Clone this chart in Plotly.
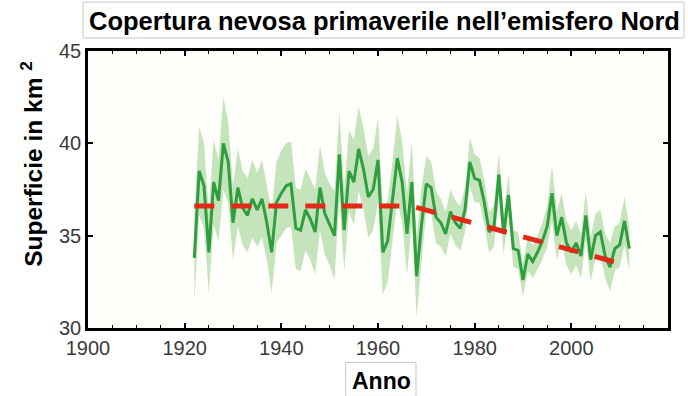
import plotly.graph_objects as go

# ---- data ----
years = list(range(1922, 2013))
snow_cover = [
    33.8, 38.5, 37.7, 34.1, 37.9, 36.9, 40.0, 39.0, 35.7, 37.6,   # 1922-1931
    36.5, 36.1, 37.0, 36.4, 37.0, 35.7, 34.1, 36.8, 37.3, 37.7,   # 1932-1941
    37.8, 35.4, 35.3, 36.4, 35.9, 35.2, 37.6, 36.2, 35.6, 35.0,   # 1942-1951
    39.4, 35.3, 38.5, 37.9, 39.7, 38.6, 37.1, 37.5, 39.1, 34.1,   # 1952-1961
    34.7, 36.8, 39.2, 37.9, 35.1, 37.9, 32.8, 35.6, 37.8, 37.6,   # 1962-1971
    36.0, 35.7, 35.1, 36.3, 35.7, 35.4, 36.4, 39.0, 38.1, 38.0,   # 1972-1981
    36.8, 35.2, 35.5, 38.3, 35.1, 37.2, 34.3, 34.2, 32.6, 34.0,   # 1982-1991
    33.6, 34.1, 34.7, 35.5, 37.3, 35.0, 36.0, 34.6, 34.1, 34.6,   # 1992-2001
    33.9, 36.1, 33.7, 35.0, 35.2, 33.9, 33.3, 34.3, 34.5, 35.8,   # 2002-2011
    34.3,                                                         # 2012
]
uncertainty = [
    2.4, 2.4, 2.3, 2.2, 2.3, 2.2, 2.5, 2.2, 2.0, 2.1,
    2.0, 2.0, 2.1, 2.0, 2.1, 2.0, 2.2, 2.2, 2.3, 2.3,
    2.3, 2.2, 2.2, 2.2, 2.2, 2.3, 2.3, 2.2, 2.2, 2.4,
    2.3, 2.2, 2.2, 2.3, 2.3, 2.2, 2.2, 2.2, 2.3, 2.3,
    2.2, 2.2, 2.3, 2.2, 2.2, 2.2, 2.2, 2.0, 1.5, 1.4,
    1.4, 1.3, 1.2, 1.2, 1.2, 1.2, 1.2, 1.3, 1.3, 1.2,
    1.2, 1.1, 1.1, 1.2, 1.1, 1.1, 1.0, 1.0, 0.9, 0.9,
    0.9, 0.9, 1.0, 1.1, 1.5, 1.3, 1.3, 1.2, 1.2, 1.2,
    1.2, 1.3, 1.2, 1.2, 1.2, 1.2, 1.3, 1.2, 1.2, 1.3,
    1.2,
]
trend_years = [1922, 1967, 2010]
trend_values = [36.6, 36.6, 33.5]

x_tick_vals = [1900, 1920, 1940, 1960, 1980, 2000]
x_tick_text = ["1900", "1920", "1940", "1960", "1980", "2000"]
y_tick_vals = [30, 35, 40, 45]
y_tick_text = ["30", "35", "40", "45"]

title_text = "Copertura nevosa primaverile nell’emisfero Nord"
y_title = "Superficie in km <sup>2</sup>"
x_title = "Anno"

upper = [v + e for v, e in zip(snow_cover, uncertainty)]
lower = [v - e for v, e in zip(snow_cover, uncertainty)]

FONT = "Liberation Sans, Arial, Helvetica, sans-serif"

fig = go.Figure()
fig.add_trace(go.Scatter(x=years, y=upper, mode="lines", line=dict(width=0),
                         hoverinfo="skip", showlegend=False))
fig.add_trace(go.Scatter(x=years, y=lower, mode="lines", line=dict(width=0),
                         fill="tonexty", fillcolor="rgba(150,205,135,0.55)",
                         hoverinfo="skip", showlegend=False))
fig.add_trace(go.Scatter(x=years, y=snow_cover, mode="lines",
                         line=dict(color="#2e9e3e", width=3),
                         showlegend=False))
fig.add_trace(go.Scatter(x=trend_years, y=trend_values, mode="lines",
                         line=dict(color="#e02a17", width=5, dash="20px,17px"),
                         showlegend=False))

# plot area: x 88..668, y 51..328.5 (px)
L, R, T, B = 88, 668, 51, 328.5
W, H = R - L, B - T

def px(xp):
    return (xp - L) / W

def py(yp):
    return (B - yp) / H

axis_common = dict(
    showline=True, linecolor="black", linewidth=2.5, mirror="ticks",
    ticks="inside", ticklen=5, tickwidth=1.5, tickcolor="black",
    showgrid=False, zeroline=False,
    tickfont=dict(family=FONT, size=20, color="#3a3a3a"),
)

fig.update_xaxes(range=[1900, 2020], tickmode="array", tickvals=x_tick_vals,
                 ticktext=x_tick_text,
                 minor=dict(dtick=5, tick0=1900, ticks="inside", ticklen=3,
                            tickwidth=1.2, tickcolor="black"),
                 **axis_common)
fig.update_yaxes(range=[30, 45], tickmode="array", tickvals=y_tick_vals,
                 ticktext=y_tick_text, **axis_common)

fig.update_layout(
    width=688, height=396,
    margin=dict(l=L, r=688 - R, t=T, b=396 - B),
    paper_bgcolor="white", plot_bgcolor="#fefefb",
    showlegend=False,
    shapes=[
        dict(type="rect", xref="paper", yref="paper",
             x0=px(83), x1=px(684), y0=py(38), y1=py(2),
             line=dict(color="#c8c8c8", width=1), fillcolor="white", layer="below"),
        dict(type="rect", xref="paper", yref="paper",
             x0=px(345.7), x1=px(416), y0=py(397), y1=py(363),
             line=dict(color="#c8c8c8", width=1), fillcolor="white", layer="below"),
    ],
    annotations=[
        dict(text=title_text, xref="paper", yref="paper", x=px(384), y=py(20.5),
             xanchor="center", yanchor="middle", showarrow=False,
             font=dict(family=FONT, size=25.5, color="black", weight="bold")),
        dict(text=x_title, xref="paper", yref="paper", x=px(381), y=py(382),
             xanchor="center", yanchor="middle", showarrow=False,
             font=dict(family=FONT, size=23, color="black", weight="bold")),
        dict(text=y_title, xref="paper", yref="paper", x=px(32), y=py(164),
             xanchor="center", yanchor="middle", showarrow=False, textangle=-90,
             font=dict(family=FONT, size=24.5, color="black", weight="bold")),
    ],
)

fig.write_html("out.html")
